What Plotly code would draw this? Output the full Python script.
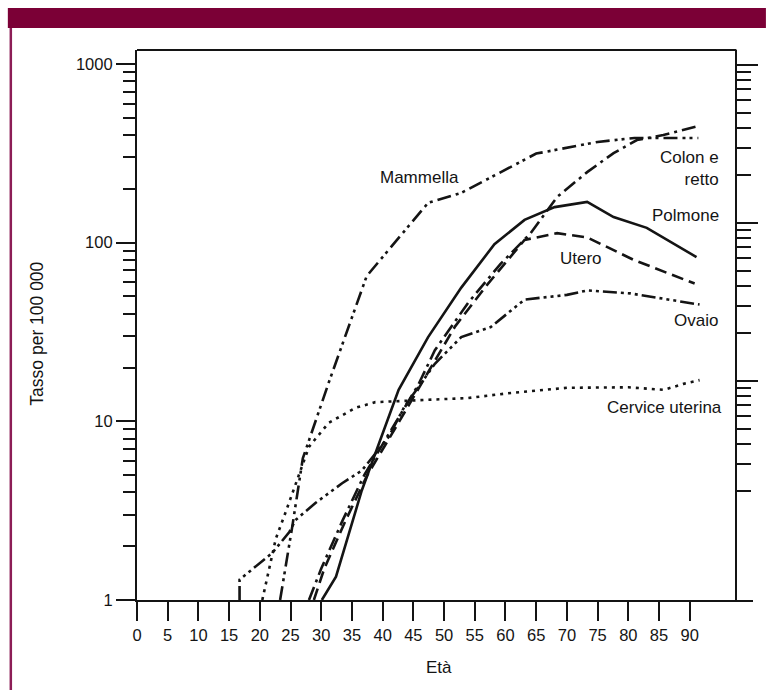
import plotly.graph_objects as go

# ---- data ----
mammella_age = [23.3, 24.2, 25.3, 27.0, 31.2, 37.4, 47.4, 52.8, 65.0, 75.0, 81.0, 91.4]
mammella_val = [1.0, 1.5, 2.6, 6.2, 16.4, 65, 167, 190, 315, 366, 385, 385]

colon_age = [28.0, 30.0, 33.5, 37.0, 41.0, 45.8, 48.5, 53.9, 59.2, 64.1, 68.4, 73.3, 77.6, 81.4, 85.7, 91.4]
colon_val = [1.0, 1.5, 2.8, 5.0, 8.5, 16, 25, 46, 76, 113, 180, 248, 317, 375, 400, 449]

polmone_age = [30.1, 32.4, 36.6, 39.8, 42.6, 47.4, 52.8, 58.2, 63.1, 68.0, 73.3, 77.6, 83.0, 91.1]
polmone_val = [1.0, 1.35, 4.1, 8.1, 15, 29.6, 56, 98, 134, 158, 169, 139, 121, 83]

utero_age = [28.8, 30.5, 34.0, 37.5, 41.5, 46.0, 51.8, 57.0, 63.1, 68.4, 73.3, 80.9, 90.8]
utero_val = [1.0, 1.5, 2.8, 5.0, 8.5, 15.5, 34, 58, 103.5, 113, 107, 80, 59]

ovaio_age = [16.7, 16.7, 22.0, 24.8, 25.8, 29.1, 33.4, 36.6, 41.0, 43.5, 48.5, 52.8, 57.6, 63.1, 70.0, 73.3, 80.3, 91.6]
ovaio_val = [1.0, 1.3, 1.83, 2.4, 2.8, 3.5, 4.5, 5.3, 8.2, 12, 21, 29.6, 33.7, 48, 51, 54, 52, 45]

cervice_age = [20.4, 21.5, 22.6, 24.2, 25.9, 28.0, 31.2, 35.6, 38.8, 53.9, 60.0, 70.0, 80.0, 85.8, 89.0, 91.6]
cervice_val = [1.0, 1.5, 2.2, 3.1, 4.5, 7.2, 9.8, 11.9, 12.8, 13.5, 14.3, 15.4, 15.5, 15.0, 16.2, 17.0]

x_ticks = list(range(0, 95, 5))
y_major = [1, 10, 100, 1000]
y_major_text = ["1", "10", "100", "1000"]
y_minor = [m * 10 ** k for k in range(3) for m in range(2, 10)]
right_major = [10, 100, 1000]

labels = ["Mammella", "Colon e<br>retto", "Polmone", "Utero", "Ovaio", "Cervice uterina"]
x_title = "Età"
y_title = "Tasso per 100 000"

# ---- styling ----
FONT = "Liberation Sans, Arial, Helvetica, sans-serif"
INK = "#141414"
MAROON = "#7b0036"
LW = 2.6

series = [
    (mammella_age, mammella_val, "14px,5px,3px,4px,3px,5px"),
    (colon_age, colon_val, "14px,5px,3px,5px"),
    (polmone_age, polmone_val, "solid"),
    (utero_age, utero_val, "12px,6px"),
    (ovaio_age, ovaio_val, "14px,4px,3px,4px,3px,4px,3px,4px"),
    (cervice_age, cervice_val, "3px,5px"),
]

fig = go.Figure()
for xs, ys, dash in series:
    fig.add_trace(go.Scatter(x=xs, y=ys, mode="lines",
                             line=dict(color=INK, width=LW, dash=dash),
                             showlegend=False, hoverinfo="skip"))
# empty trace so the right-hand tick axis is drawn
fig.add_trace(go.Scatter(x=[], y=[], yaxis="y2", showlegend=False, hoverinfo="skip"))

# plot area in pixels: left 137, right 757, top 50, bottom 600
L, R, T, B = 137, 757, 50, 600
W, H = R - L, B - T
def px(x):
    return (x - L) / W
def py(y):
    return (B - y) / H

X_MAX = 100.3     # axis line reaches past the frame
FRAME_X = 97.6    # right edge of the frame

fig.update_layout(
    width=767, height=690,
    margin=dict(l=L, r=767 - R, t=T, b=690 - B),
    paper_bgcolor="white", plot_bgcolor="white",
    font=dict(family=FONT, size=16, color=INK),
    xaxis=dict(range=[0, X_MAX], showgrid=False, zeroline=False,
               showline=True, linecolor=INK, linewidth=2.2,
               ticks="outside", ticklen=19, tickwidth=2.2, tickcolor=INK,
               tickmode="array", tickvals=x_ticks,
               tickfont=dict(size=16.5, family=FONT, color=INK)),
    yaxis=dict(type="log", range=[0, 3.078], showgrid=False, zeroline=False,
               showline=True, linecolor=INK, linewidth=2.2,
               ticks="outside", ticklen=19, tickwidth=2.2, tickcolor=INK,
               tickmode="array", tickvals=y_major, ticktext=y_major_text,
               tickfont=dict(size=16.5, family=FONT, color=INK),
               minor=dict(ticks="outside", ticklen=12, tickwidth=2, tickcolor=INK,
                          tickmode="array", tickvals=y_minor, showgrid=False)),
    yaxis2=dict(type="log", range=[-0.386, 3.095], overlaying="y", side="right",
                anchor="free", position=(740 - L) / W,
                showgrid=False, zeroline=False, showline=True, linecolor=INK, linewidth=2.2,
                ticks="outside", ticklen=21, tickwidth=2.2, tickcolor=INK,
                tickmode="array", tickvals=right_major, showticklabels=False,
                minor=dict(ticks="outside", ticklen=14, tickwidth=2, tickcolor=INK,
                           tickmode="array", tickvals=y_minor, showgrid=False)),
)

# frame top line
fig.add_shape(type="line", xref="x", yref="paper", x0=0, x1=FRAME_X, y0=1, y1=1,
              line=dict(color=INK, width=2.2))
# maroon band at top and left border of the page
fig.add_shape(type="rect", xref="paper", yref="paper",
              x0=px(7), x1=px(770), y0=py(8), y1=py(28),
              fillcolor=MAROON, line=dict(width=0), layer="above")
fig.add_shape(type="line", xref="paper", yref="paper",
              x0=px(10), x1=px(10), y0=py(28), y1=py(692),
              line=dict(color="#8c1d56", width=2.5))

# axis titles
fig.add_annotation(text=x_title, xref="paper", yref="paper", x=px(441), y=py(667),
                   xanchor="center", yanchor="middle", showarrow=False,
                   font=dict(size=17, family=FONT, color=INK))
fig.add_annotation(text=y_title, xref="paper", yref="paper", x=px(36), y=py(334),
                   xanchor="center", yanchor="middle", textangle=-90, showarrow=False,
                   font=dict(size=17.5, family=FONT, color=INK))

# curve labels
ann = [
    (labels[0], 421, 177, "center"),
    (labels[1], 725, 168, "right"),
    (labels[2], 725, 216, "right"),
    (labels[3], 584, 258, "center"),
    (labels[4], 724, 320, "right"),
    (labels[5], 728, 407, "right"),
]
for text, x, y, anchor in ann:
    fig.add_annotation(text=text, xref="paper", yref="paper", x=px(x), y=py(y),
                       xanchor=anchor, yanchor="middle", align="right" if anchor == "right" else "center",
                       showarrow=False, font=dict(size=17, family=FONT, color=INK))

fig.write_html("out.html", config={"displayModeBar": False},
               post_script="document.body.style.margin='0';")
